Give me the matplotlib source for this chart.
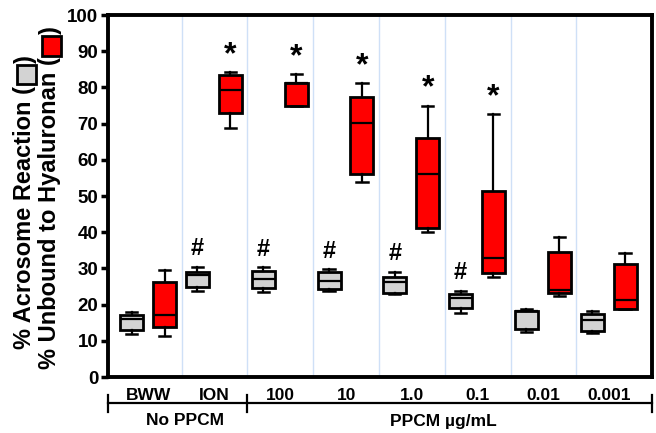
import numpy as np
import matplotlib.pyplot as plt
from matplotlib.patches import Rectangle

plt.rcParams['font.family'] = ['Liberation Sans', 'DejaVu Sans']
plt.rcParams['font.weight'] = 'bold'

groups = ['BWW', 'ION', '100', '10', '1.0', '0.1', '0.01', '0.001']

# grey boxes: % acrosome reaction
gray_min = [11.9, 23.8, 23.6, 23.8, 23.0, 17.8, 12.5, 12.2]
gray_q1 = [13.0, 24.9, 24.5, 24.2, 23.1, 19.0, 13.3, 12.7]
gray_med = [15.9, 28.2, 27.0, 26.6, 26.3, 21.7, 18.1, 15.7]
gray_q3 = [17.1, 29.1, 29.4, 29.1, 27.5, 22.9, 18.3, 17.4]
gray_max = [17.9, 30.5, 30.3, 29.8, 29.1, 23.8, 18.7, 18.2]

# red boxes: % unbound to hyaluronan
red_min = [11.3, 68.9, 74.9, 54.0, 40.1, 27.5, 22.5, 18.7]
red_q1 = [13.9, 72.8, 74.9, 56.0, 41.1, 28.8, 23.1, 18.8]
red_med = [17.1, 79.3, 81.3, 70.1, 56.2, 32.8, 24.0, 21.3]
red_q3 = [26.3, 83.4, 81.3, 77.3, 66.1, 51.4, 34.6, 31.2]
red_max = [29.6, 84.3, 83.7, 81.2, 75.0, 72.6, 38.6, 34.2]

hash_groups = [1, 2, 3, 4, 5]
star_groups = [1, 2, 3, 4, 5]


def make_stats(lo, q1, med, q3, hi):
    return [dict(whislo=a, q1=b, med=c, q3=d, whishi=e, fliers=[])
            for a, b, c, d, e in zip(lo, q1, med, q3, hi)]


fig = plt.figure(figsize=(6.56, 4.33), dpi=100)
ax = fig.add_axes([108/656, 56/433, 544/656, 362/433])

x = np.arange(len(groups))
x_gray = x - 0.26
x_red = x + 0.24

for sep in x[:-1] + 0.5:
    ax.axvline(sep, color='#cfe0f7', lw=1, zorder=0)

common = dict(widths=0.35, patch_artist=True, showfliers=False, manage_ticks=False,
              capwidths=0.17,
              medianprops=dict(color='black', lw=1.6),
              whiskerprops=dict(color='black', lw=1.6),
              capprops=dict(color='black', lw=1.8))
ax.bxp(make_stats(gray_min, gray_q1, gray_med, gray_q3, gray_max), positions=x_gray,
       boxprops=dict(facecolor='#d3d3d3', edgecolor='black', lw=2), **common)
ax.bxp(make_stats(red_min, red_q1, red_med, red_q3, red_max), positions=x_red,
       boxprops=dict(facecolor='#ff0000', edgecolor='black', lw=2), **common)

for i in hash_groups:
    ax.text(x_gray[i], gray_max[i] + 1.8, '#', ha='center', va='bottom', fontsize=17, fontweight='bold')
for i in star_groups:
    ax.text(x_red[i], red_max[i] + 0.5, '*', ha='center', va='bottom', fontsize=23, fontweight='bold')

ax.set_xlim(-0.62, 7.65)
ax.set_ylim(0, 100)
ax.set_yticks(range(0, 101, 10))
ax.set_xticks(x)
ax.set_xticklabels(groups)
ax.tick_params(axis='x', length=0, pad=8, labelsize=12.5)
ax.tick_params(axis='y', length=5, width=2.5, labelsize=13.5, pad=2)
for s in ax.spines.values():
    s.set_linewidth(2.8)

# group brackets under the axis
tr = ax.get_xaxis_transform()
xl, xr = ax.get_xlim()
ax.plot([xl, xr], [-0.072, -0.072], color='black', lw=1.6, transform=tr, clip_on=False)
for xv in [xl, 1.5, xr]:
    ax.plot([xv, xv], [-0.05, -0.097], color='black', lw=1.6, transform=tr, clip_on=False)
ax.text(0.55, -0.119, 'No PPCM', transform=tr, ha='center', va='center', fontsize=12.5, fontweight='bold')
ax.text(4.48, -0.122, 'PPCM µg/mL', transform=tr, ha='center', va='center', fontsize=12.5, fontweight='bold')

# y label lines with coloured squares inside parentheses
renderer = fig.canvas.get_renderer()


def label_line(xpx, ycpx, before, color, fs=17, sq=19, gap=2):
    kw = dict(rotation=90, fontsize=fs, fontweight='bold', ha='center', va='bottom')
    t1 = fig.text(xpx/656, 0, before, **kw)
    t2 = fig.text(xpx/656, 0, ')', **kw)
    h1 = t1.get_window_extent(renderer).height
    h2 = t2.get_window_extent(renderer).height
    total = h1 + gap + sq + gap + h2
    y0 = ycpx - total/2
    t1.set_y(y0/433)
    fig.patches.append(Rectangle(((xpx - sq/2 + 1)/656, (y0 + h1 + gap)/433), sq/656, sq/433,
                                 transform=fig.transFigure, facecolor=color,
                                 edgecolor='black', lw=2))
    t2.set_y((y0 + h1 + 2*gap + sq)/433)


label_line(25, 231, '% Acrosome Reaction (', '#d3d3d3')
label_line(50, 235, '% Unbound to Hyaluronan (', '#ff0000')

fig.savefig('out.png', dpi=100)
